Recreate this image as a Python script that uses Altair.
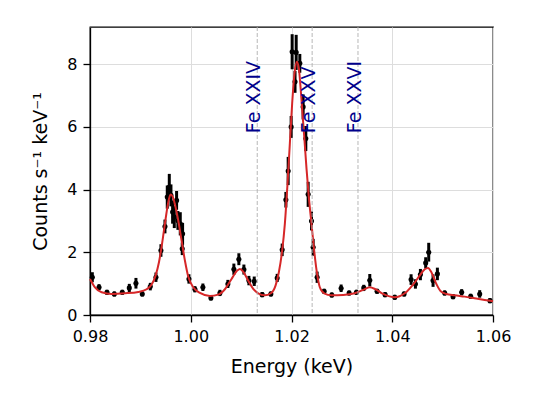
import altair as alt
import pandas as pd

# Measured spectrum: bin energy (keV), count rate and 1-sigma error
energy = [
    0.98046, 0.98179, 0.98337, 0.98483, 0.98641, 0.98780, 0.98912, 0.99038,
    0.99197, 0.99309, 0.99408, 0.99488, 0.99534, 0.99574, 0.99607, 0.99640,
    0.99673, 0.99719, 0.99745, 0.99792, 0.99838, 0.99831, 0.99964, 1.00083,
    1.00241, 1.00400, 1.00579, 1.00737, 1.00856, 1.00955, 1.01055, 1.01154,
    1.01260, 1.01418, 1.01590, 1.01716, 1.01815, 1.01888, 1.01934, 1.01993,
    1.02013, 1.02070, 1.02093, 1.02165, 1.02231, 1.02284, 1.02331, 1.02397,
    1.02430, 1.02509, 1.02648, 1.02800, 1.02985, 1.03144, 1.03289, 1.03435,
    1.03554, 1.03699, 1.03858, 1.04050, 1.04235, 1.04374, 1.04460, 1.04559,
    1.04664, 1.04724, 1.04810, 1.04896, 1.05041, 1.05207, 1.05378, 1.05557,
    1.05736, 1.05940,
]
counts = [
    1.205, 0.885, 0.725, 0.672, 0.725, 0.864, 1.013, 0.672,
    0.906, 1.205, 2.058, 2.825, 3.763, 4.083, 3.817, 3.284,
    3.124, 3.657, 3.017, 2.910, 2.591, 2.111, 1.151, 0.821,
    0.885, 0.544, 0.704, 0.991, 1.461, 1.780, 1.450, 1.098,
    1.077, 0.650, 0.672, 1.183, 2.079, 3.678, 4.595, 6.002,
    8.400, 7.440, 8.380, 8.030, 6.640, 5.630, 3.850, 3.000,
    2.160, 1.205, 0.757, 0.640, 0.853, 0.704, 0.725, 0.864,
    1.109, 0.757, 0.650, 0.565, 0.672, 1.130, 0.991, 1.290,
    1.663, 2.004, 1.098, 1.311, 0.704, 0.586, 0.725, 0.597,
    0.672, 0.458,
]
errors = [
    0.16, 0.10, 0.08, 0.08, 0.08, 0.13, 0.17, 0.08,
    0.12, 0.15, 0.20, 0.22, 0.37, 0.42, 0.35, 0.37,
    0.35, 0.30, 0.30, 0.37, 0.35, 0.20, 0.15, 0.10,
    0.12, 0.08, 0.10, 0.13, 0.18, 0.19, 0.16, 0.15,
    0.15, 0.08, 0.08, 0.13, 0.20, 0.25, 0.45, 0.35,
    0.56, 0.35, 0.56, 0.30, 0.40, 0.40, 0.40, 0.30,
    0.27, 0.18, 0.08, 0.08, 0.12, 0.08, 0.08, 0.10,
    0.20, 0.08, 0.08, 0.08, 0.08, 0.17, 0.15, 0.18,
    0.18, 0.30, 0.20, 0.20, 0.08, 0.08, 0.10, 0.08,
    0.12, 0.08,
]

# Best-fit model curve
model_energy = [
    0.98000, 0.98099, 0.98231, 0.98430, 0.98694, 0.98959, 0.99124, 0.99223,
    0.99302, 0.99369, 0.99435, 0.99501, 0.99554, 0.99600, 0.99640, 0.99686,
    0.99752, 0.99818, 0.99884, 0.99950, 1.00050, 1.00182, 1.00380, 1.00545,
    1.00678, 1.00810, 1.00909, 1.00975, 1.01041, 1.01140, 1.01240, 1.01339,
    1.01471, 1.01590, 1.01683, 1.01749, 1.01815, 1.01868, 1.01921, 1.01967,
    1.02013, 1.02060, 1.02106, 1.02146, 1.02179, 1.02218, 1.02258, 1.02298,
    1.02344, 1.02397, 1.02450, 1.02503, 1.02562, 1.02648, 1.02793, 1.03025,
    1.03256, 1.03421, 1.03554, 1.03666, 1.03818, 1.04050, 1.04248, 1.04413,
    1.04545, 1.04645, 1.04711, 1.04777, 1.04876, 1.04962, 1.05074, 1.05240,
    1.05438, 1.05636, 1.05835, 1.06000,
]
model_counts = [
    1.151, 0.885, 0.725, 0.672, 0.693, 0.736, 0.821, 0.970,
    1.258, 1.684, 2.324, 3.070, 3.603, 3.849, 3.785, 3.529,
    3.017, 2.377, 1.738, 1.226, 0.885, 0.704, 0.608, 0.650,
    0.821, 1.151, 1.397, 1.471, 1.386, 1.098, 0.832, 0.693,
    0.629, 0.693, 0.938, 1.365, 2.058, 2.910, 4.190, 5.469,
    6.748, 7.708, 8.081, 7.868, 7.281, 6.429, 5.576, 4.670,
    3.763, 2.910, 2.058, 1.365, 0.885, 0.693, 0.629, 0.640,
    0.693, 0.800, 0.885, 0.821, 0.672, 0.565, 0.693, 0.970,
    1.258, 1.461, 1.503, 1.365, 0.991, 0.757, 0.672, 0.629,
    0.586, 0.533, 0.480, 0.437,
]

# Iron line identifications
line_names = ["Fe XXIV", "Fe XXV", "Fe XXVI"]
line_energy = [1.0132, 1.0241, 1.0332]
label_counts = [5.8, 5.8, 5.8]

x_ticks = [0.98, 1.00, 1.02, 1.04, 1.06]
y_ticks = [0, 2, 4, 6, 8]

spec = pd.DataFrame({"energy": energy, "counts": counts, "err": errors})
model = pd.DataFrame({"energy": model_energy, "counts": model_counts})
lines = pd.DataFrame({"energy": line_energy, "name": line_names, "y": label_counts})

FONT = "DejaVu Sans"

x_scale = alt.Scale(domain=[0.98, 1.06], nice=False, zero=False)
y_scale = alt.Scale(domain=[0, 9.19], nice=False, zero=True)

x_enc = alt.X(
    "energy:Q", scale=x_scale,
    axis=alt.Axis(values=x_ticks, format=".2f", title="Energy (keV)"),
)
y_enc = alt.Y(
    "counts:Q", scale=y_scale,
    axis=alt.Axis(values=y_ticks, format="d", title="Counts s⁻¹ keV⁻¹"),
)

base = alt.Chart(spec)

errbars = base.transform_calculate(
    lo="datum.counts - datum.err", hi="datum.counts + datum.err"
).mark_rule(color="black", strokeWidth=3).encode(
    x=x_enc, y=alt.Y("lo:Q", scale=y_scale), y2="hi:Q"
)

points = base.mark_circle(color="black", size=26, opacity=1).encode(x=x_enc, y=y_enc)

model_line = alt.Chart(model).mark_line(
    color="#d62728", strokeWidth=2, interpolate="monotone"
).encode(x=x_enc, y=y_enc)

vlines = alt.Chart(lines).mark_rule(
    color="#b0b0b0", strokeWidth=0.9, strokeDash=[4, 2]
).encode(x=alt.X("energy:Q", scale=x_scale))

labels = alt.Chart(lines).mark_text(
    angle=270, align="left", baseline="middle", dy=-3,
    fontSize=19, font=FONT, color="#00008b",
).encode(
    x=alt.X("energy:Q", scale=x_scale),
    y=alt.Y("y:Q", scale=y_scale),
    text="name:N",
)

chart = alt.layer(errbars, points, model_line, vlines, labels).properties(
    width=403,
    height=288,
    autosize=alt.AutoSizeParams(type="none"),
    padding={"left": 90, "top": 27, "right": 47, "bottom": 90},
).configure_view(
    stroke="black", strokeWidth=1.3
).configure_axis(
    labelFont=FONT, titleFont=FONT,
    labelFontSize=16, titleFontSize=19,
    labelColor="black", titleColor="black",
    titleFontWeight="normal",
    tickColor="black", tickSize=7, tickWidth=1.3,
    domainColor="black", domainWidth=1.3,
    gridColor="#dddddd", gridWidth=1,
    labelFlush=False, labelOverlap=False,
    labelPadding=6,
).configure_axisX(
    titlePadding=13,
).configure_axisY(
    titlePadding=16,
)

chart.save("out.html", embed_options={"renderer": "svg", "actions": False})
